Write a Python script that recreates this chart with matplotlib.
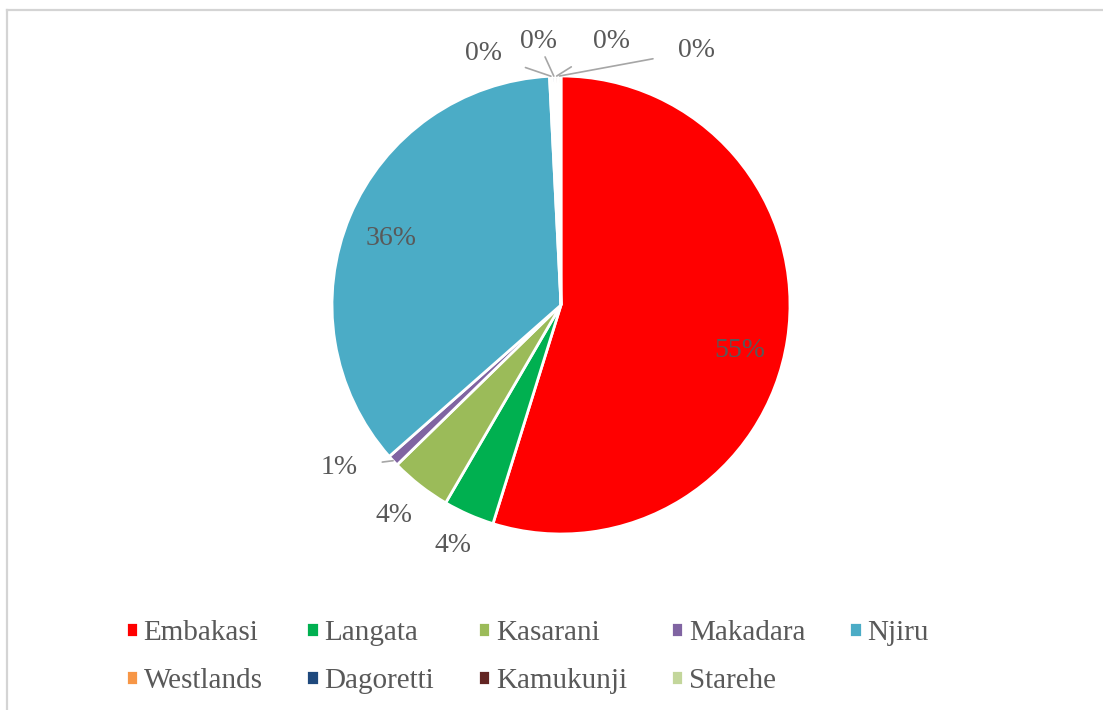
import matplotlib.pyplot as plt
import numpy as np
from matplotlib.lines import Line2D

# ==============================
# data
# ==============================

areas = ['Embakasi', 'Langata', 'Kasarani', 'Makadara', 'Njiru',
         'Westlands', 'Dagoretti', 'Kamukunji', 'Starehe']
shares = [54.8, 3.6, 4.3, 0.8, 35.7, 0.2, 0.2, 0.2, 0.2]
colors = ['#FF0000', '#00B050', '#9BBB59', '#8064A2', '#4BACC6',
          '#F79646', '#1F497D', '#632523', '#C3D69B']

# label text positions (data units, pie radius = 1) and whether a leader line is drawn
label_pos = [(0.78, -0.20), (-0.47, -1.05), (-0.73, -0.92), (-0.97, -0.71),
             (-0.74, 0.29), (-0.34, 1.10), (-0.10, 1.15), (0.22, 1.15), (0.59, 1.11)]
leader = [False, False, False, True, False, True, True, True, True]

TEXT = '#595959'
plt.rcParams['font.family'] = ['Liberation Serif', 'DejaVu Serif']

# ==============================
# figure
# ==============================

W, H = 1103, 710
fig = plt.figure(figsize=(W / 100, H / 100), dpi=100, facecolor='white')

# light frame on top and left edges
fig.add_artist(Line2D([7 / W, 7 / W], [0, 1 - 10 / H], transform=fig.transFigure,
                      color='#d4d4d4', lw=1.6))
fig.add_artist(Line2D([7 / W, 1], [1 - 10 / H, 1 - 10 / H], transform=fig.transFigure,
                      color='#d4d4d4', lw=1.6))

cx, cy, R = 561, 305, 229
ax = fig.add_axes([(cx - R) / W, (H - cy - R) / H, 2 * R / W, 2 * R / H])

wedges, _ = ax.pie(shares, colors=colors, startangle=90, counterclock=False,
                   radius=1, wedgeprops=dict(edgecolor='white', linewidth=2))
ax.set_xlim(-1, 1)
ax.set_ylim(-1, 1)
ax.axis('off')

total = sum(shares)
for w, val, (tx, ty), lead in zip(wedges, shares, label_pos, leader):
    txt = f'{round(val / total * 100):.0f}%'
    if lead:
        mid = np.deg2rad((w.theta1 + w.theta2) / 2)
        px, py = np.cos(mid), np.sin(mid)
        ax.annotate(txt, xy=(px, py), xytext=(tx, ty), ha='center', va='center',
                    fontsize=20, color=TEXT, annotation_clip=False,
                    arrowprops=dict(arrowstyle='-', color='#a6a6a6', lw=1.2,
                                    shrinkA=16, shrinkB=0))
    else:
        ax.text(tx, ty, txt, ha='center', va='center', fontsize=20, color=TEXT,
                clip_on=False)

# legend: row-major order for 5 columns
order = [0, 5, 1, 6, 2, 7, 3, 8, 4]
fig.legend([wedges[i] for i in order], [areas[i] for i in order],
           ncol=5, loc='center', bbox_to_anchor=(0.478, 1 - 657 / H),
           frameon=False, fontsize=21, labelcolor=TEXT,
           handlelength=0.42, handleheight=0.42, handletextpad=0.2,
           columnspacing=1.5, labelspacing=0.75)

fig.savefig('out.png', dpi=100, facecolor='white')
